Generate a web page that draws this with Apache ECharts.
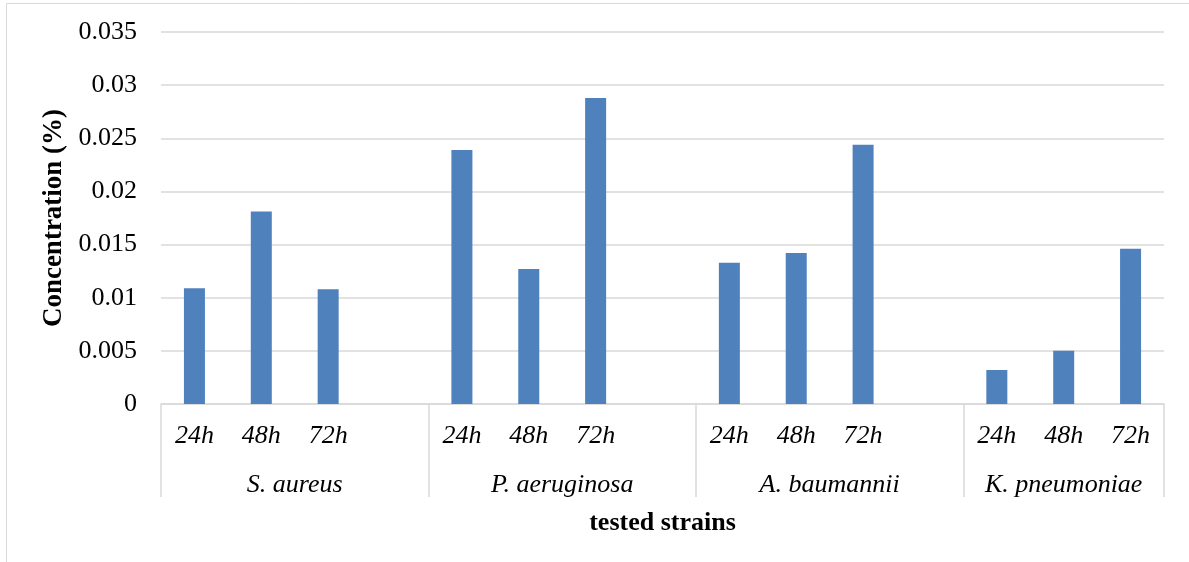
<!DOCTYPE html>
<html>
<head>
<meta charset="utf-8">
<script src="https://cdn.jsdelivr.net/npm/echarts@6/dist/echarts.min.js"></script>
<style>
  html, body { margin: 0; padding: 0; background: #fff; }
  #chart { width: 1189px; height: 562px; }
</style>
</head>
<body>
<div id="chart"></div>
<script>
// Time points measured for each strain
const timePoints = ['24h', '48h', '72h'];
// Tested strains (outer axis level)
const strains = ['S. aureus', 'P. aeruginosa', 'A. baumannii', 'K. pneumoniae'];
// Concentration (%) per strain at 24h / 48h / 72h
const sAureus = [0.0109, 0.0181, 0.0108];
const pAeruginosa = [0.0239, 0.0127, 0.0288];
const aBaumannii = [0.0133, 0.0142, 0.0244];
const kPneumoniae = [0.0032, 0.0050, 0.0146];
// Y axis ticks
const yMin = 0, yMax = 0.035, yStep = 0.005;

const groups = [sAureus, pAeruginosa, aBaumannii, kPneumoniae];

// Flatten into slots: three bars per strain, with an empty slot between strains
const slotLabels = [];
const slotValues = [];
const groupStart = [];
groups.forEach((vals, gi) => {
  groupStart.push(slotLabels.length);
  vals.forEach((v, i) => { slotLabels.push(timePoints[i]); slotValues.push(v); });
  if (gi < groups.length - 1) { slotLabels.push(''); slotValues.push(null); }
});
const nSlots = slotLabels.length;
const groupBounds = groupStart.concat([nSlots]);
// Center each strain name under its block of slots
const strainCenters = strains.map((_, i) => (groupBounds[i] + groupBounds[i + 1]) / 2);

const font = '"Liberation Serif", "Times New Roman", serif';
const gridColor = '#d9d9d9';

const chart = echarts.init(document.getElementById('chart'), null, { renderer: 'canvas' });
chart.setOption({
  backgroundColor: '#ffffff',
  animation: false,
  graphic: [{
    type: 'rect',
    shape: { x: 6.5, y: 3.5, width: 1300, height: 700 },
    style: { fill: 'none', stroke: gridColor, lineWidth: 1 },
    silent: true
  }],
  grid: { left: 161, right: 25, top: 32, bottom: 158, containLabel: false },
  xAxis: [{
    type: 'category',
    data: slotLabels,
    boundaryGap: true,
    axisLine: { show: true, lineStyle: { color: gridColor, width: 1.5 } },
    axisTick: { show: false },
    axisLabel: {
      interval: 0, margin: 19,
      fontFamily: font, fontSize: 26, fontStyle: 'italic', color: '#000'
    },
    splitLine: { show: false }
  }, {
    type: 'value',
    min: 0, max: nSlots,
    position: 'bottom',
    axisLine: { show: false },
    axisTick: {
      show: true, inside: false, length: 93,
      customValues: groupBounds,
      lineStyle: { color: gridColor, width: 1.5 }
    },
    axisLabel: {
      show: true, margin: 68,
      customValues: strainCenters,
      formatter: (v) => {
        const i = strainCenters.findIndex(c => Math.abs(c - v) < 1e-6);
        return i >= 0 ? strains[i] : '';
      },
      fontFamily: font, fontSize: 26, fontStyle: 'italic', color: '#000'
    },
    splitLine: { show: false },
    name: 'tested strains',
    nameLocation: 'middle',
    nameGap: 106,
    nameTextStyle: { fontFamily: font, fontSize: 26, fontWeight: 'bold', color: '#000' }
  }],
  yAxis: {
    type: 'value',
    min: yMin, max: yMax, interval: yStep,
    axisLine: { show: false },
    axisTick: { show: false },
    axisLabel: {
      margin: 24,
      formatter: (v) => String(+v.toFixed(3)),
      fontFamily: font, fontSize: 26, color: '#000'
    },
    splitLine: { show: true, lineStyle: { color: gridColor, width: 1.5 } },
    name: 'Concentration (%)',
    nameLocation: 'middle',
    nameGap: 90,
    nameRotate: 90,
    nameTextStyle: { fontFamily: font, fontSize: 27, fontWeight: 'bold', color: '#000' }
  },
  series: [{
    type: 'bar',
    xAxisIndex: 0,
    data: slotValues,
    barWidth: 21,
    itemStyle: { color: '#4f81bd' }
  }]
});
</script>
</body>
</html>
